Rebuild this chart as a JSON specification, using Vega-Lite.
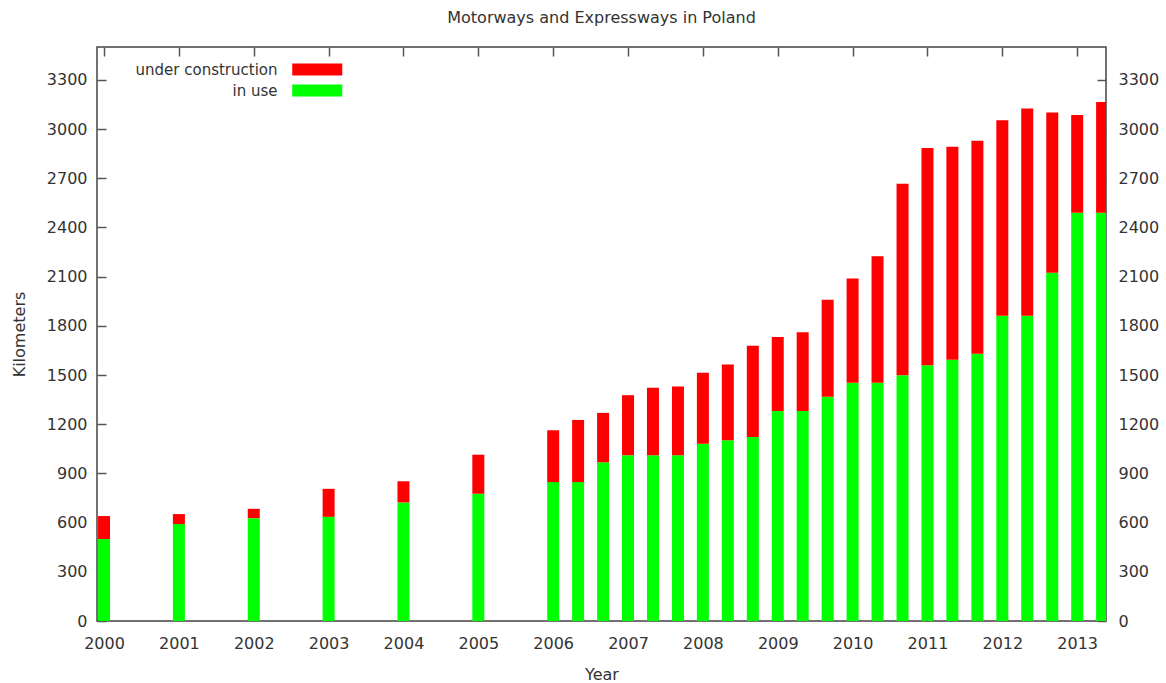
{
  "$schema": "https://vega.github.io/schema/vega-lite/v6.json",
  "width": 1009,
  "height": 574,
  "autosize": {"type": "none"},
  "padding": {"left": 97, "top": 47, "right": 60, "bottom": 62},
  "background": "white",
  "title": {
    "text": "Motorways and Expressways in Poland",
    "font": "DejaVu Sans",
    "fontSize": 16,
    "fontWeight": "normal",
    "color": "#333333",
    "anchor": "middle",
    "baseline": "alphabetic",
    "offset": 7
  },
  "config": {
    "view": {"stroke": "#444444", "strokeWidth": 1.5},
    "axis": {
      "domain": false,
      "grid": false,
      "labelFont": "DejaVu Sans",
      "labelFontSize": 16,
      "labelColor": "#333333",
      "titleFont": "DejaVu Sans",
      "titleFontSize": 16,
      "titleFontWeight": "normal",
      "titleColor": "#333333",
      "tickColor": "#555555",
      "tickWidth": 1.5,
      "tickSize": -9
    }
  },
  "data": {
    "values": [
      {"year": 2000, "series": "in use", "km": 500},
      {"year": 2000, "series": "under construction", "km": 140},
      {"year": 2001, "series": "in use", "km": 591},
      {"year": 2001, "series": "under construction", "km": 61},
      {"year": 2002, "series": "in use", "km": 627},
      {"year": 2002, "series": "under construction", "km": 57},
      {"year": 2003, "series": "in use", "km": 635},
      {"year": 2003, "series": "under construction", "km": 171},
      {"year": 2004, "series": "in use", "km": 723},
      {"year": 2004, "series": "under construction", "km": 129},
      {"year": 2005, "series": "in use", "km": 776},
      {"year": 2005, "series": "under construction", "km": 238},
      {"year": 2006, "series": "in use", "km": 847},
      {"year": 2006, "series": "under construction", "km": 316},
      {"year": 2006.333, "series": "in use", "km": 847},
      {"year": 2006.333, "series": "under construction", "km": 379},
      {"year": 2006.667, "series": "in use", "km": 968},
      {"year": 2006.667, "series": "under construction", "km": 301},
      {"year": 2007, "series": "in use", "km": 1011},
      {"year": 2007, "series": "under construction", "km": 366},
      {"year": 2007.333, "series": "in use", "km": 1011},
      {"year": 2007.333, "series": "under construction", "km": 411},
      {"year": 2007.667, "series": "in use", "km": 1011},
      {"year": 2007.667, "series": "under construction", "km": 419},
      {"year": 2008, "series": "in use", "km": 1081},
      {"year": 2008, "series": "under construction", "km": 432},
      {"year": 2008.333, "series": "in use", "km": 1102},
      {"year": 2008.333, "series": "under construction", "km": 462},
      {"year": 2008.667, "series": "in use", "km": 1122},
      {"year": 2008.667, "series": "under construction", "km": 556},
      {"year": 2009, "series": "in use", "km": 1281},
      {"year": 2009, "series": "under construction", "km": 450},
      {"year": 2009.333, "series": "in use", "km": 1280},
      {"year": 2009.333, "series": "under construction", "km": 481},
      {"year": 2009.667, "series": "in use", "km": 1367},
      {"year": 2009.667, "series": "under construction", "km": 592},
      {"year": 2010, "series": "in use", "km": 1452},
      {"year": 2010, "series": "under construction", "km": 636},
      {"year": 2010.333, "series": "in use", "km": 1452},
      {"year": 2010.333, "series": "under construction", "km": 772},
      {"year": 2010.667, "series": "in use", "km": 1499},
      {"year": 2010.667, "series": "under construction", "km": 1167},
      {"year": 2011, "series": "in use", "km": 1560},
      {"year": 2011, "series": "under construction", "km": 1324},
      {"year": 2011.333, "series": "in use", "km": 1593},
      {"year": 2011.333, "series": "under construction", "km": 1299},
      {"year": 2011.667, "series": "in use", "km": 1630},
      {"year": 2011.667, "series": "under construction", "km": 1299},
      {"year": 2012, "series": "in use", "km": 1862},
      {"year": 2012, "series": "under construction", "km": 1191},
      {"year": 2012.333, "series": "in use", "km": 1862},
      {"year": 2012.333, "series": "under construction", "km": 1263},
      {"year": 2012.667, "series": "in use", "km": 2124},
      {"year": 2012.667, "series": "under construction", "km": 976},
      {"year": 2013, "series": "in use", "km": 2489},
      {"year": 2013, "series": "under construction", "km": 596},
      {"year": 2013.333, "series": "in use", "km": 2489},
      {"year": 2013.333, "series": "under construction", "km": 676}
    ]
  },
  "layer": [
    {
      "mark": {"type": "bar", "size": 12, "clip": true},
      "encoding": {
        "x": {
          "field": "year",
          "type": "quantitative",
          "scale": {"domain": [1999.906, 2013.385], "nice": false, "zero": false, "padding": 0},
          "axis": {
            "orient": "bottom",
            "values": [2000, 2001, 2002, 2003, 2004, 2005, 2006, 2007, 2008, 2009, 2010, 2011, 2012, 2013],
            "format": "d",
            "labelPadding": 23,
            "title": "Year",
            "titleBaseline": "middle",
            "titleY": 53
          }
        },
        "y": {
          "field": "km",
          "type": "quantitative",
          "stack": "zero",
          "scale": {"domain": [0, 3500], "nice": false, "padding": 0},
          "axis": {
            "orient": "left",
            "values": [0, 300, 600, 900, 1200, 1500, 1800, 2100, 2400, 2700, 3000, 3300],
            "format": "d",
            "labelPadding": 19,
            "title": "Kilometers",
            "titleAngle": -90,
            "titleBaseline": "middle",
            "titleAlign": "center",
            "titleX": -78,
            "titleY": 287
          }
        },
        "color": {
          "field": "series",
          "type": "nominal",
          "scale": {"domain": ["under construction", "in use"], "range": ["#ff0000", "#00ff00"]},
          "legend": {
            "orient": "none",
            "legendX": 212.75,
            "legendY": 15,
            "title": null,
            "symbolType": "M-4,-0.96H4V0.96H-4Z",
            "symbolSize": 156.25,
            "symbolStrokeWidth": 0,
            "symbolOpacity": 1,
            "labelAlign": "right",
            "labelOffset": -47.25,
            "labelFont": "DejaVu Sans",
            "labelFontSize": 15,
            "labelColor": "#333333",
            "rowPadding": 5
          }
        },
        "order": {"field": "series", "sort": "ascending"}
      }
    },
    {
      "mark": {"type": "bar", "size": 12, "opacity": 0},
      "encoding": {
        "x": {
          "field": "year",
          "type": "quantitative",
          "axis": {
            "orient": "top",
            "values": [2000, 2001, 2002, 2003, 2004, 2005, 2006, 2007, 2008, 2009, 2010, 2011, 2012, 2013],
            "labels": false,
            "title": null
          }
        },
        "y": {
          "field": "km",
          "type": "quantitative",
          "stack": "zero",
          "axis": {
            "orient": "right",
            "values": [0, 300, 600, 900, 1200, 1500, 1800, 2100, 2400, 2700, 3000, 3300],
            "format": "d",
            "labelPadding": 21,
            "title": null
          }
        }
      }
    }
  ],
  "resolve": {"axis": {"x": "independent", "y": "independent"}}
}
